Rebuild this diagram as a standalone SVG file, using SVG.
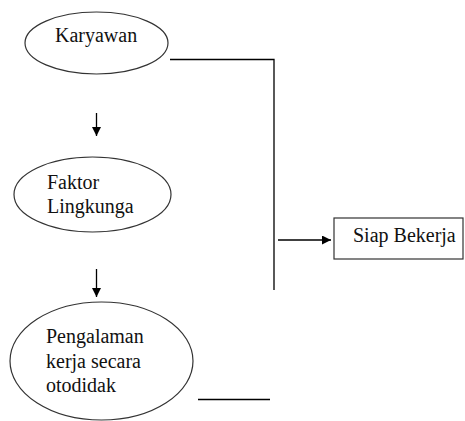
<svg xmlns="http://www.w3.org/2000/svg" width="465" height="421" viewBox="0 0 465 421">
<style>
.n{fill:#fff;stroke:#333;stroke-width:1.2}
.t{font-family:'Liberation Serif','DejaVu Serif',serif;font-size:20px;fill:#111}
.c{stroke:#000;stroke-width:1.3;fill:none}
</style>
<defs>
<marker id="ah" viewBox="0 0 10 10" refX="10" refY="5" markerWidth="9" markerHeight="9" markerUnits="userSpaceOnUse" orient="auto">
<path d="M0,0L10,5L0,10z" fill="#000"/>
</marker>
</defs>
<rect width="465" height="421" fill="#fff"/>
<g id="connectors">
<polyline class="c" points="170,59.5 274,59.5 274,290"/>
<line class="c" x1="96.5" y1="113" x2="96.5" y2="136" marker-end="url(#ah)"/>
<line class="c" x1="96.5" y1="269" x2="96.5" y2="297" marker-end="url(#ah)"/>
<line class="c" x1="278" y1="240" x2="331" y2="240" marker-end="url(#ah)"/>
<line class="c" x1="198" y1="399.5" x2="270" y2="399.5"/>
</g>
<g id="karyawan">
<ellipse class="n" cx="96.5" cy="43" rx="71.5" ry="31"/>
<text class="t" font-family="Liberation Serif, serif" x="55" y="42">Karyawan</text>
</g>
<g id="faktor">
<ellipse class="n" cx="92.5" cy="194.5" rx="78.5" ry="37.5"/>
<text class="t" x="47" y="189">Faktor</text>
<text class="t" x="47" y="213">Lingkunga</text>
</g>
<g id="pengalaman">
<ellipse class="n" cx="101.5" cy="361" rx="91.5" ry="59"/>
<text class="t" x="46" y="343">Pengalaman</text>
<text class="t" x="46" y="368">kerja secara</text>
<text class="t" x="46" y="392">otodidak</text>
</g>
<g id="siap">
<rect class="n" x="334" y="218" width="129" height="41"/>
<text class="t" x="353" y="242">Siap Bekerja</text>
</g>
</svg>
